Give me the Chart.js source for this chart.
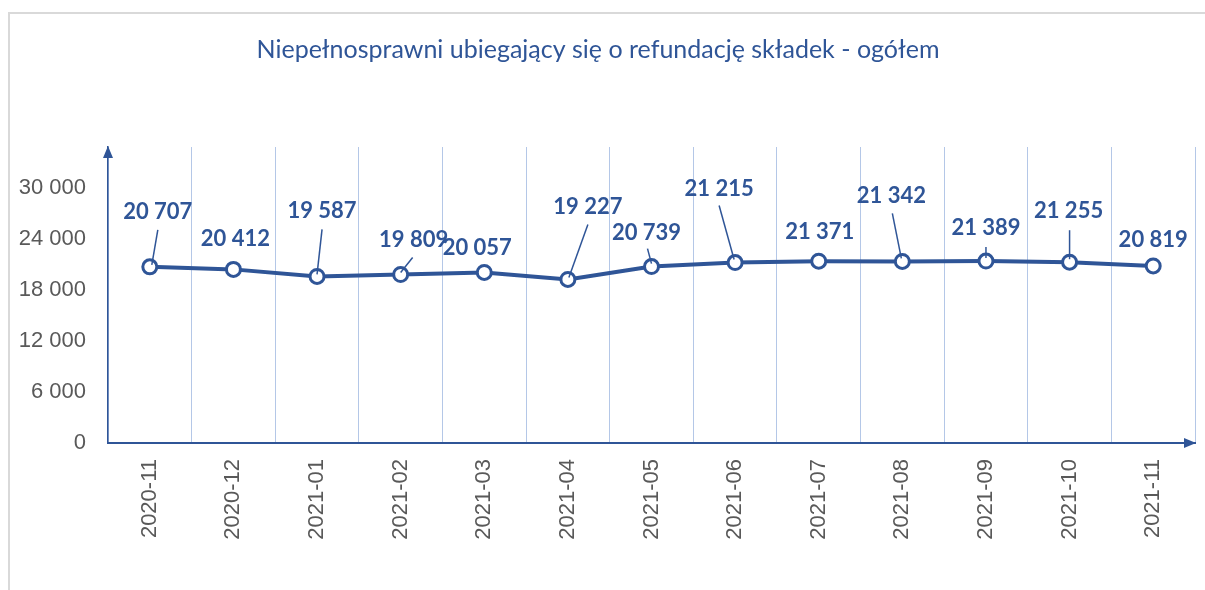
<!DOCTYPE html>
<html>
<head>
<meta charset="utf-8">
<script src="https://cdn.jsdelivr.net/npm/chart.js@4.4.1/dist/chart.umd.min.js"></script>
<style>
  html, body { margin: 0; padding: 0; background: #ffffff; }
  #wrap { width: 1205px; height: 590px; position: relative; }
</style>
</head>
<body>
<div id="wrap"><canvas id="c" width="1205" height="590"></canvas></div>
<script>
// ---- data ----
const chartTitle = 'Niepełnosprawni ubiegający się o refundację składek - ogółem';
const categories = ['2020-11','2020-12','2021-01','2021-02','2021-03','2021-04','2021-05','2021-06','2021-07','2021-08','2021-09','2021-10','2021-11'];
const values = [20707, 20412, 19587, 19809, 20057, 19227, 20739, 21215, 21371, 21342, 21389, 21255, 20819];
const yTicks = [0, 6000, 12000, 18000, 24000, 30000];

// ---- label placement (styling, pixel offsets from each point) ----
const labelOffsets = [[8,-55],[2,-30],[5,-65],[13,-35],[-7,-24],[20,-73],[-5,-34],[-16,-74],[1,-29],[-11,-66],[0,-33],[-1,-51],[0,-26]];
const leaderLines = [[8,-37,2,-2], null, [5,-47,0,-2], [12,-17,0,-2], null, [20,-55,1,-2], [-4,-18,0,-3], [-16,-57,-1,-3], null, [-10,-48,-1,-3], [0,-14,0,-3], [0,-32,0,-3], null];

const BLUE = '#2f5597';
const GRID = '#b4c7e7';
const GREY = '#595959';

function fmt(v) { return String(v).replace(/\B(?=(\d{3})+(?!\d))/g, ' '); }

const framePlugin = {
  id: 'frame',
  beforeDraw(chart) {
    const ctx = chart.ctx;
    ctx.save();
    ctx.fillStyle = '#ffffff';
    ctx.fillRect(0, 0, chart.width, chart.height);
    ctx.strokeStyle = '#d9d9d9';
    ctx.lineWidth = 2;
    ctx.beginPath();
    ctx.moveTo(9, chart.height);
    ctx.lineTo(9, 13);
    ctx.lineTo(chart.width, 13);
    ctx.stroke();
    ctx.restore();
  }
};

const arrowsPlugin = {
  id: 'arrows',
  afterDraw(chart) {
    const ctx = chart.ctx;
    const a = chart.chartArea;
    ctx.save();
    ctx.fillStyle = BLUE;
    ctx.beginPath();
    ctx.moveTo(a.left, a.top - 1);
    ctx.lineTo(a.left - 5, a.top + 11);
    ctx.lineTo(a.left + 5, a.top + 11);
    ctx.closePath();
    ctx.fill();
    ctx.beginPath();
    ctx.moveTo(a.right + 1, a.bottom);
    ctx.lineTo(a.right - 11, a.bottom - 5);
    ctx.lineTo(a.right - 11, a.bottom + 5);
    ctx.closePath();
    ctx.fill();
    ctx.restore();
  }
};

const labelsPlugin = {
  id: 'dataLabels',
  afterDatasetsDraw(chart) {
    const ctx = chart.ctx;
    const meta = chart.getDatasetMeta(0);
    ctx.save();
    ctx.strokeStyle = BLUE;
    ctx.lineWidth = 1.5;
    ctx.fillStyle = BLUE;
    ctx.font = 'bold 22px Lato';
    ctx.textAlign = 'center';
    ctx.textBaseline = 'middle';
    meta.data.forEach((pt, i) => {
      const ll = leaderLines[i];
      if (ll) {
        ctx.beginPath();
        ctx.moveTo(pt.x + ll[0], pt.y + ll[1]);
        ctx.lineTo(pt.x + ll[2], pt.y + ll[3]);
        ctx.stroke();
      }
      const off = labelOffsets[i];
      ctx.fillText(fmt(values[i]), pt.x + off[0], pt.y + off[1]);
    });
    ctx.restore();
  }
};

new Chart(document.getElementById('c'), {
  type: 'line',
  data: {
    labels: categories,
    datasets: [{
      data: values,
      borderColor: BLUE,
      borderWidth: 4,
      pointRadius: 7,
      pointHoverRadius: 7,
      pointBorderWidth: 3,
      pointBackgroundColor: '#ffffff',
      pointBorderColor: BLUE,
      tension: 0
    }]
  },
  options: {
    responsive: false,
    animation: false,
    events: [],
    layout: { padding: { left: 0, right: 9, top: 0, bottom: 0 } },
    plugins: {
      legend: { display: false },
      tooltip: { enabled: false },
      title: {
        display: true,
        text: chartTitle,
        color: BLUE,
        font: { family: 'Lato', size: 25, weight: 'normal', lineHeight: 1.2 },
        padding: { top: 35, bottom: 82 }
      }
    },
    scales: {
      x: {
        type: 'category',
        offset: true,
        grid: { display: true, offset: true, color: GRID, lineWidth: 1, drawTicks: false },
        border: { display: true, color: BLUE, width: 2 },
        ticks: {
          color: GREY,
          font: { family: 'Liberation Sans', size: 22 },
          minRotation: 90,
          maxRotation: 90,
          autoSkip: false,
          padding: 16
        },
        afterFit(scale) { scale.height = 147; }
      },
      y: {
        min: 0,
        max: 34800,
        grid: { display: false, drawTicks: false },
        border: { display: true, color: BLUE, width: 1.5 },
        ticks: {
          stepSize: 6000,
          color: GREY,
          font: { family: 'Liberation Sans', size: 22 },
          padding: 22,
          callback: (v) => fmt(v)
        },
        afterBuildTicks(scale) {
          scale.ticks = yTicks.map(v => ({ value: v }));
        },
        afterFit(scale) { scale.width = 108; }
      }
    }
  },
  plugins: [framePlugin, arrowsPlugin, labelsPlugin]
});
</script>
</body>
</html>
